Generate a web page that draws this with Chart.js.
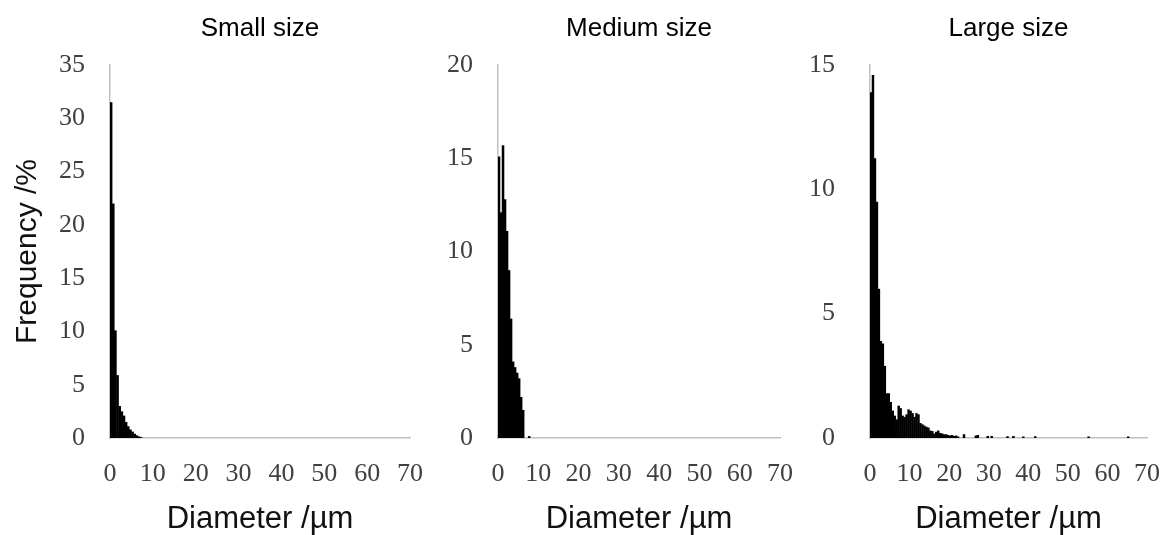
<!DOCTYPE html>
<html>
<head>
<meta charset="utf-8">
<script src="https://cdn.jsdelivr.net/npm/chart.js@4/dist/chart.umd.min.js"></script>
<style>
    html, body { margin: 0; padding: 0; background: #fff; overflow: hidden; }
    #wrap { position: relative; width: 1162px; height: 535px; }
    #wrap canvas { position: absolute; top: 0; }
</style>
</head>
<body>
<div id="wrap">
    <canvas id="chart-small"  width="426" height="535" style="left:0px;width:426px;height:535px"></canvas>
    <canvas id="chart-medium" width="366" height="535" style="left:430px;width:366px;height:535px"></canvas>
    <canvas id="chart-large"  width="352" height="535" style="left:810px;width:352px;height:535px"></canvas>
</div>
<script>
/**
 * Size distributions (frequency % per 0.5 µm diameter bin), three panels.
 * Bins are given by their centre (µm); empty bins are left out.
 */

// x axis ticks, shared by the three panels
const X_TICKS = [0, 10, 20, 30, 40, 50, 60, 70];

// Small size
const SMALL_BINS = [0.25, 0.75, 1.25, 1.75, 2.25, 2.75, 3.25, 3.75, 4.25, 4.75, 5.25, 5.75, 6.25, 6.75, 7.25];
const SMALL_FREQ = [31.5, 22.0, 10.1, 5.9, 3.0, 2.5, 2.1, 1.5, 1.1, 0.8, 0.6, 0.4, 0.25, 0.15, 0.08];
const SMALL_Y_TICKS = [0, 5, 10, 15, 20, 25, 30, 35];

// Medium size
const MEDIUM_BINS = [0.25, 0.75, 1.25, 1.75, 2.25, 2.75, 3.25, 3.75, 4.25, 4.75, 5.25, 5.75, 6.25, 7.75];
const MEDIUM_FREQ = [15.1, 12.1, 15.7, 12.8, 11.1, 9.0, 6.4, 4.1, 3.8, 3.5, 3.2, 2.2, 1.5, 0.1];
const MEDIUM_Y_TICKS = [0, 5, 10, 15, 20];

// Large size
const LARGE_BINS = [
    0.25, 0.75, 1.25, 1.75, 2.25, 2.75, 3.25, 3.75, 4.25, 4.75,
    5.25, 5.75, 6.25, 6.75, 7.25, 7.75, 8.25, 8.75, 9.25, 9.75,
    10.25, 10.75, 11.25, 11.75, 12.25, 12.75, 13.25, 13.75, 14.25, 14.75,
    15.25, 15.75, 16.25, 16.75, 17.25, 17.75, 18.25, 18.75, 19.25, 19.75,
    20.25, 20.75, 21.25, 21.75, 22.25, 23.75, 26.75, 27.25, 29.75, 30.75,
    34.75, 36.25, 38.75, 41.75, 55.25, 65.25,
];
const LARGE_FREQ = [
    13.9, 14.6, 11.25, 9.5, 6.0, 3.9, 3.8, 2.9, 1.8, 1.8,
    1.45, 1.1, 0.9, 0.75, 1.3, 1.2, 0.9, 0.85, 0.95, 1.15,
    1.1, 1.0, 0.85, 1.0, 0.95, 0.6, 0.55, 0.5, 0.45, 0.42,
    0.3, 0.28, 0.18, 0.25, 0.3, 0.2, 0.18, 0.15, 0.15, 0.12,
    0.1, 0.12, 0.08, 0.1, 0.06, 0.15, 0.1, 0.12, 0.08, 0.08,
    0.07, 0.08, 0.06, 0.07, 0.06, 0.06,
];
const LARGE_Y_TICKS = [0, 5, 10, 15];

const AXIS_GREY = '#bfbfbf';
const TICK_COLOR = '#404040';
const SERIF = "'Liberation Serif', 'Times New Roman', serif";
const SANS = "'Liberation Sans', Arial, sans-serif";

/**
 * Builds one histogram panel.
 *
 * @param {string} id canvas id
 * @param {object} p panel settings
 */
function buildChart(id, p) {
    const ctx = document.getElementById(id).getContext('2d');
    return new Chart(ctx, {
        type: 'bar',
        data: {
            datasets: [{
                data: p.bins.map((b, i) => ({ x: b, y: p.freq[i] })),
                backgroundColor: '#000',
                borderWidth: 0,
                categoryPercentage: 1,
                barPercentage: 1.25, // slight overlap, no white seams between bins
            }],
        },
        options: {
            responsive: false,
            maintainAspectRatio: false,
            animation: false,
            layout: { padding: { left: 0, right: p.padRight, top: 0, bottom: 0 } },
            plugins: {
                legend: { display: false },
                tooltip: { enabled: false },
                title: {
                    display: true,
                    text: p.title,
                    fullSize: false,
                    color: '#000',
                    font: { family: SANS, size: 26, weight: 'normal', lineHeight: 1.2 },
                    padding: { top: 13, bottom: 20.8 },
                },
            },
            scales: {
                x: {
                    type: 'linear',
                    min: 0,
                    max: 70,
                    offset: false,
                    grid: { display: false, drawTicks: false },
                    border: { display: true, color: AXIS_GREY, width: 1.5 },
                    afterBuildTicks: (scale) => { scale.ticks = X_TICKS.map((v) => ({ value: v })); },
                    afterFit: (scale) => {
                        // tick padding would otherwise widen the side margins
                        scale.height = 97;
                        scale.paddingLeft = 8;
                        scale.paddingRight = 8;
                    },
                    ticks: {
                        color: TICK_COLOR,
                        padding: 21,
                        maxRotation: 0,
                        font: { family: SERIF, size: 26, lineHeight: 1.2 },
                    },
                    title: {
                        display: true,
                        text: 'Diameter /µm',
                        color: '#111',
                        font: { family: SANS, size: 31, lineHeight: 1 },
                        padding: { top: 0, bottom: 0 },
                    },
                },
                y: {
                    min: 0,
                    max: p.yTicks[p.yTicks.length - 1],
                    grid: { display: false, drawTicks: false },
                    border: { display: true, color: AXIS_GREY, width: 1.5 },
                    afterBuildTicks: (scale) => { scale.ticks = p.yTicks.map((v) => ({ value: v })); },
                    afterFit: (scale) => { scale.width = p.yWidth; },
                    ticks: {
                        color: TICK_COLOR,
                        padding: p.yPad,
                        font: { family: SERIF, size: 26 },
                    },
                    title: {
                        display: !!p.yTitle,
                        text: p.yTitle || '',
                        color: '#111',
                        font: { family: SANS, size: 30, lineHeight: 1 },
                        padding: { top: 13, bottom: 0 },
                    },
                },
            },
        },
    });
}

buildChart('chart-small', {
    title: 'Small size', bins: SMALL_BINS, freq: SMALL_FREQ, yTicks: SMALL_Y_TICKS,
    yTitle: 'Frequency /%', yWidth: 110, yPad: 25, padRight: 16,
});
buildChart('chart-medium', {
    title: 'Medium size', bins: MEDIUM_BINS, freq: MEDIUM_FREQ, yTicks: MEDIUM_Y_TICKS,
    yWidth: 68, yPad: 25, padRight: 16,
});
buildChart('chart-large', {
    title: 'Large size', bins: LARGE_BINS, freq: LARGE_FREQ, yTicks: LARGE_Y_TICKS,
    yWidth: 60, yPad: 35, padRight: 15,
});
</script>
</body>
</html>
